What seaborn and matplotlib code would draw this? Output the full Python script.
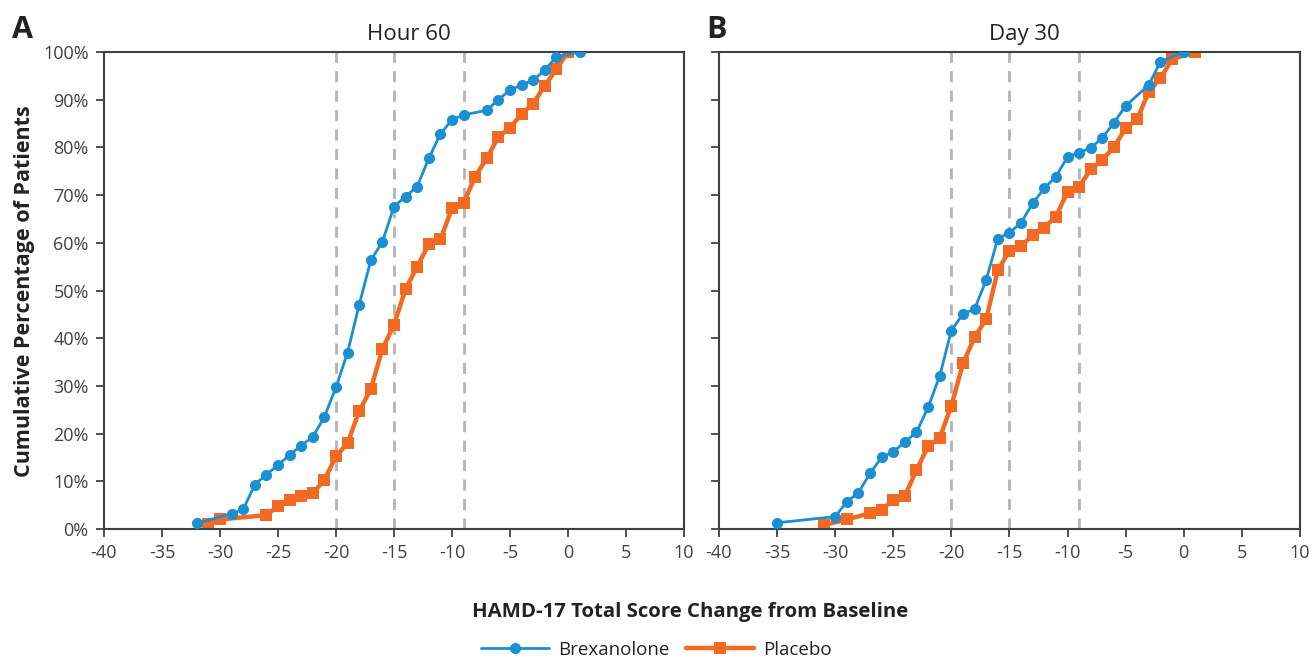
import numpy as np
import pandas as pd
import matplotlib
matplotlib.use("Agg")
import matplotlib.pyplot as plt
import seaborn as sns

#%% values
# panel A - hour 60
brex_h60_x = [-32, -29, -28, -27, -26, -25, -24, -23, -22, -21, -20, -19, -18, -17, -16,
              -15, -14, -13, -12, -11, -10, -9, -7, -6, -5, -4, -3, -2, -1, 1]
brex_h60_y = [1.2, 3.2, 4.1, 9.3, 11.4, 13.4, 15.5, 17.5, 19.3, 23.5, 29.7, 37.0, 47.0, 56.3, 60.2,
              67.6, 69.7, 71.8, 77.7, 82.8, 85.8, 86.8, 87.8, 90.0, 92.0, 93.1, 94.1, 96.2, 99.0, 100.0]
plac_h60_x = [-31, -30, -26, -25, -24, -23, -22, -21, -20, -19, -18, -17, -16, -15, -14,
              -13, -12, -11, -10, -9, -8, -7, -6, -5, -4, -3, -2, -1, 0]
plac_h60_y = [1.0, 2.0, 2.9, 4.8, 6.1, 6.9, 7.5, 10.3, 15.2, 18.0, 24.7, 29.3, 37.7, 42.8, 50.3,
              55.0, 59.7, 60.7, 67.2, 68.3, 73.9, 77.7, 82.2, 84.1, 87.0, 89.2, 92.9, 96.4, 100.0]

# panel B - day 30
brex_d30_x = [-35, -30, -29, -28, -27, -26, -25, -24, -23, -22, -21, -20, -19, -18, -17,
              -16, -15, -14, -13, -12, -11, -10, -9, -8, -7, -6, -5, -3, -2, 0]
brex_d30_y = [1.3, 2.6, 5.7, 7.6, 11.7, 15.0, 16.2, 18.2, 20.3, 25.5, 32.1, 41.6, 45.1, 46.1, 52.2,
              60.9, 62.1, 64.2, 68.3, 71.4, 73.9, 78.0, 78.9, 79.9, 82.0, 85.2, 88.7, 93.1, 98.0, 100.0]
plac_d30_x = [-31, -29, -27, -26, -25, -24, -23, -22, -21, -20, -19, -18, -17, -16, -15,
              -14, -13, -12, -11, -10, -9, -8, -7, -6, -5, -4, -3, -2, -1, 1]
plac_d30_y = [0.8, 2.0, 3.3, 4.0, 6.1, 6.9, 12.4, 17.3, 19.1, 25.8, 34.7, 40.2, 44.0, 54.3, 58.3,
              59.3, 61.6, 63.2, 65.5, 70.7, 71.8, 75.4, 77.4, 80.1, 84.0, 85.9, 91.7, 94.5, 98.5, 100.0]

cutoffs = [-20, -15, -9]
panel_titles = ["Hour 60", "Day 30"]
x_ticks = list(range(-40, 11, 5))
y_ticks = list(range(0, 101, 10))

#%% style
sns.set_style("white")
plt.rcParams['font.family'] = ['Open Sans', 'DejaVu Sans']
ink = "#404040"
dark = "#222222"
blue = "#1b8fd4"
orange = "#f26a21"

fig = plt.figure(figsize=(13.13, 6.61), dpi=100)
axA = fig.add_axes([0.0792, 0.1997, 0.4417, 0.7216])
axB = fig.add_axes([0.5476, 0.1997, 0.4424, 0.7216])

panels = [
    (axA, brex_h60_x, brex_h60_y, plac_h60_x, plac_h60_y),
    (axB, brex_d30_x, brex_d30_y, plac_d30_x, plac_d30_y),
]

for i, (ax, bx, by, px, py) in enumerate(panels):
    for c in cutoffs:
        ax.plot([c, c], [0, 100], color="#b3b3b3", lw=2, ls=(0, (4, 3)), zorder=1)

    sns.lineplot(x=bx, y=by, ax=ax, color=blue, lw=2, marker="o", markersize=8,
                 markeredgewidth=0, sort=False, label="Brexanolone", zorder=3)
    sns.lineplot(x=px, y=py, ax=ax, color=orange, lw=3.2, marker="s", markersize=8,
                 markeredgewidth=0, sort=False, label="Placebo", zorder=2)

    ax.set_xlim(-40, 10)
    ax.set_ylim(0, 100)
    ax.set_xticks(x_ticks)
    ax.set_yticks(y_ticks)
    ax.set_xticklabels([str(t) for t in x_ticks])
    if i == 0:
        ax.set_yticklabels([f"{t}%" for t in y_ticks])
    else:
        ax.set_yticklabels([])
    ax.tick_params(axis="both", direction="out", length=6, width=1.3, colors=ink,
                   labelsize=13, labelcolor=ink, bottom=True, left=True, pad=5)
    for s in ax.spines.values():
        s.set_color(ink)
        s.set_linewidth(1.5)
    ax.set_xlabel("")
    ax.set_ylabel("")
    ax.set_title(panel_titles[i], fontsize=16, color=dark, x=0.525, pad=9)
    ax.get_legend().remove()

fig.text(0.009, 0.955, "A", fontsize=22, fontweight="bold", color=dark, va="center")
fig.text(0.538, 0.955, "B", fontsize=22, fontweight="bold", color=dark, va="center")

fig.text(0.019, 0.56, "Cumulative Percentage of Patients", rotation=90, fontsize=15.5,
         fontweight="bold", color=dark, ha="center", va="center")
fig.text(0.5255, 0.074, "HAMD-17 Total Score Change from Baseline", fontsize=14.7,
         fontweight="bold", color=dark, ha="center", va="center")

handles, labels = axA.get_legend_handles_labels()
fig.legend(handles, labels, loc="center", bbox_to_anchor=(0.5, 0.017), ncol=2,
           frameon=False, fontsize=13.5, handlelength=3.6, columnspacing=0.9,
           handletextpad=0.5, labelcolor=dark)

fig.savefig("out.png", dpi=100)
